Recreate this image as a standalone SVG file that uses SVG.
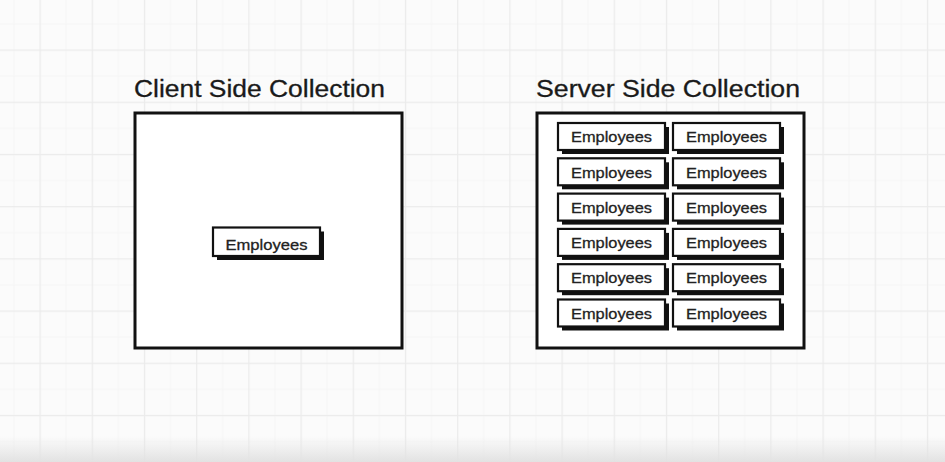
<svg xmlns="http://www.w3.org/2000/svg" width="945" height="462" viewBox="0 0 945 462">
<defs>
<pattern id="grid" patternUnits="userSpaceOnUse" x="39.5" y="49.5" width="52.2" height="52.2">
<rect x="0" y="0" width="52.2" height="52.2" fill="#fbfbfb"/>
<rect x="26.1" y="0" width="1" height="52.2" fill="#f6f6f6"/>
<rect x="0" y="26.1" width="52.2" height="1" fill="#f6f6f6"/>
<rect x="0" y="0" width="1.2" height="52.2" fill="#ebebeb"/>
<rect x="0" y="0" width="52.2" height="1.2" fill="#ebebeb"/>
</pattern>
<linearGradient id="fade" x1="0" y1="0" x2="0" y2="1">
<stop offset="0" stop-color="#e4e4e4" stop-opacity="0"/>
<stop offset="1" stop-color="#e2e2e2" stop-opacity="1"/>
</linearGradient>
<g id="emp">
<rect x="4" y="4" width="107" height="27" fill="#111"/>
<rect x="0" y="0" width="107" height="27" fill="#fff" stroke="#111" stroke-width="2.2"/>
<text x="53.5" y="19.3" class="lbl" textLength="81" lengthAdjust="spacingAndGlyphs">Employees</text>
</g>
</defs>
<style>
.title{font-family:"Liberation Sans",Arial,sans-serif;font-size:23.5px;fill:#1a1a1a;stroke:#1a1a1a;stroke-width:0.3}
.lbl{font-family:"Liberation Sans",Arial,sans-serif;font-size:15.5px;fill:#222;stroke:#222;stroke-width:0.3;text-anchor:middle}
.frame{fill:#fff;stroke:#111;stroke-width:3}
</style>
<rect x="0" y="0" width="945" height="462" fill="url(#grid)"/>
<rect x="0" y="436" width="945" height="26" fill="url(#fade)"/>

<g id="client">
<text x="134" y="97" class="title" textLength="251" lengthAdjust="spacingAndGlyphs">Client Side Collection</text>
<rect x="135" y="113" width="267" height="235" class="frame"/>
<g id="client-employees">
<rect x="217" y="231.5" width="107" height="28.5" fill="#111"/>
<rect x="213" y="227.5" width="107" height="28.5" fill="#fff" stroke="#111" stroke-width="2.2"/>
<text x="266.5" y="249.5" class="lbl" textLength="82" lengthAdjust="spacingAndGlyphs">Employees</text>
</g>
</g>

<g id="server">
<text x="536" y="97" class="title" textLength="264" lengthAdjust="spacingAndGlyphs">Server Side Collection</text>
<rect x="537" y="113" width="267" height="235" class="frame"/>
<use href="#emp" x="558" y="123"/>
<use href="#emp" x="673" y="123"/>
<use href="#emp" x="558" y="158.3"/>
<use href="#emp" x="673" y="158.3"/>
<use href="#emp" x="558" y="193.6"/>
<use href="#emp" x="673" y="193.6"/>
<use href="#emp" x="558" y="228.9"/>
<use href="#emp" x="673" y="228.9"/>
<use href="#emp" x="558" y="264.2"/>
<use href="#emp" x="673" y="264.2"/>
<use href="#emp" x="558" y="299.5"/>
<use href="#emp" x="673" y="299.5"/>
</g>

<g id="connectors"></g>
</svg>
